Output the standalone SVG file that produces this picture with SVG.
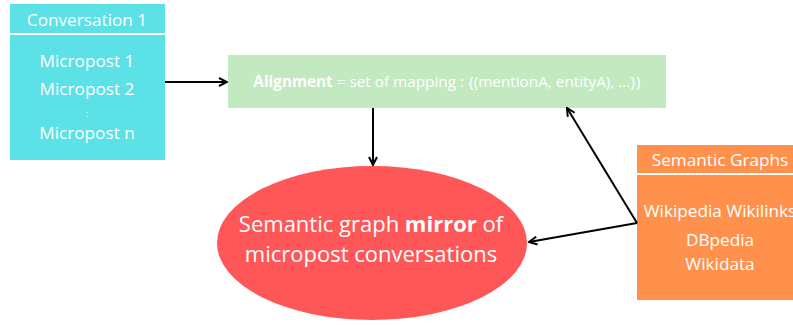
<svg xmlns="http://www.w3.org/2000/svg" width="793" height="325" viewBox="0 0 793 325">
<defs>
<style>
text{font-family:"Open Sans","Noto Sans",sans-serif;fill:#fff;text-anchor:middle}
.m{font-size:17.2px}
.l{stroke:#000;stroke-width:2;fill:none}
.sep{stroke:#fff;stroke-width:2}
</style>
<marker id="a" viewBox="0 0 10 10" refX="9" refY="5" markerWidth="5" markerHeight="5" orient="auto"><path d="M1,1 L9,5 L1,9" fill="none" stroke="#000" stroke-width="2"/></marker>
</defs>
<rect width="793" height="325" fill="#fff"/>
<g id="conversation">
<rect x="10" y="4" width="155" height="156" fill="#5ce1e6"/>
<line class="sep" x1="10" y1="34" x2="165" y2="34"/>
<text class="m" x="87" y="26">Conversation 1</text>
<text class="m" x="87" y="67">Micropost 1</text>
<text class="m" x="87" y="95">Micropost 2</text>
<text x="87" y="117" font-size="9">:</text>
<text class="m" x="87" y="139">Micropost n</text>
</g>
<g id="alignment">
<rect x="228" y="55" width="438" height="53" fill="#c2e9bf"/>
<text x="447" y="87" font-size="15.3">
<tspan font-weight="bold">Alignment</tspan> = set of mapping : {(mentionA, entityA), ...})</text>
</g>
<g id="mirror">
<ellipse cx="372" cy="243" rx="155" ry="77" fill="#ff5757"/>
<text x="371" y="232" font-size="22">Semantic graph <tspan font-weight="bold">mirror</tspan> of</text>
<text x="371" y="262" font-size="22">micropost conversations</text>
</g>
<g id="graphs">
<rect x="637" y="145" width="160" height="155" fill="#ff914d"/>
<line class="sep" x1="637" y1="174" x2="797" y2="174"/>
<text class="m" x="720" y="166">Semantic Graphs</text>
<text class="m" x="720" y="217">Wikipedia Wikilinks</text>
<text class="m" x="720" y="246">DBpedia</text>
<text class="m" x="720" y="270">Wikidata</text>
</g>
<g id="connectors">
<line class="l" x1="165" y1="82" x2="227" y2="82" marker-end="url(#a)"/>
<line class="l" x1="373" y1="108" x2="373" y2="165" marker-end="url(#a)"/>
<line class="l" x1="637" y1="223" x2="529" y2="242" marker-end="url(#a)"/>
<line class="l" x1="637" y1="223" x2="567" y2="108" marker-end="url(#a)"/>
</g>
</svg>
